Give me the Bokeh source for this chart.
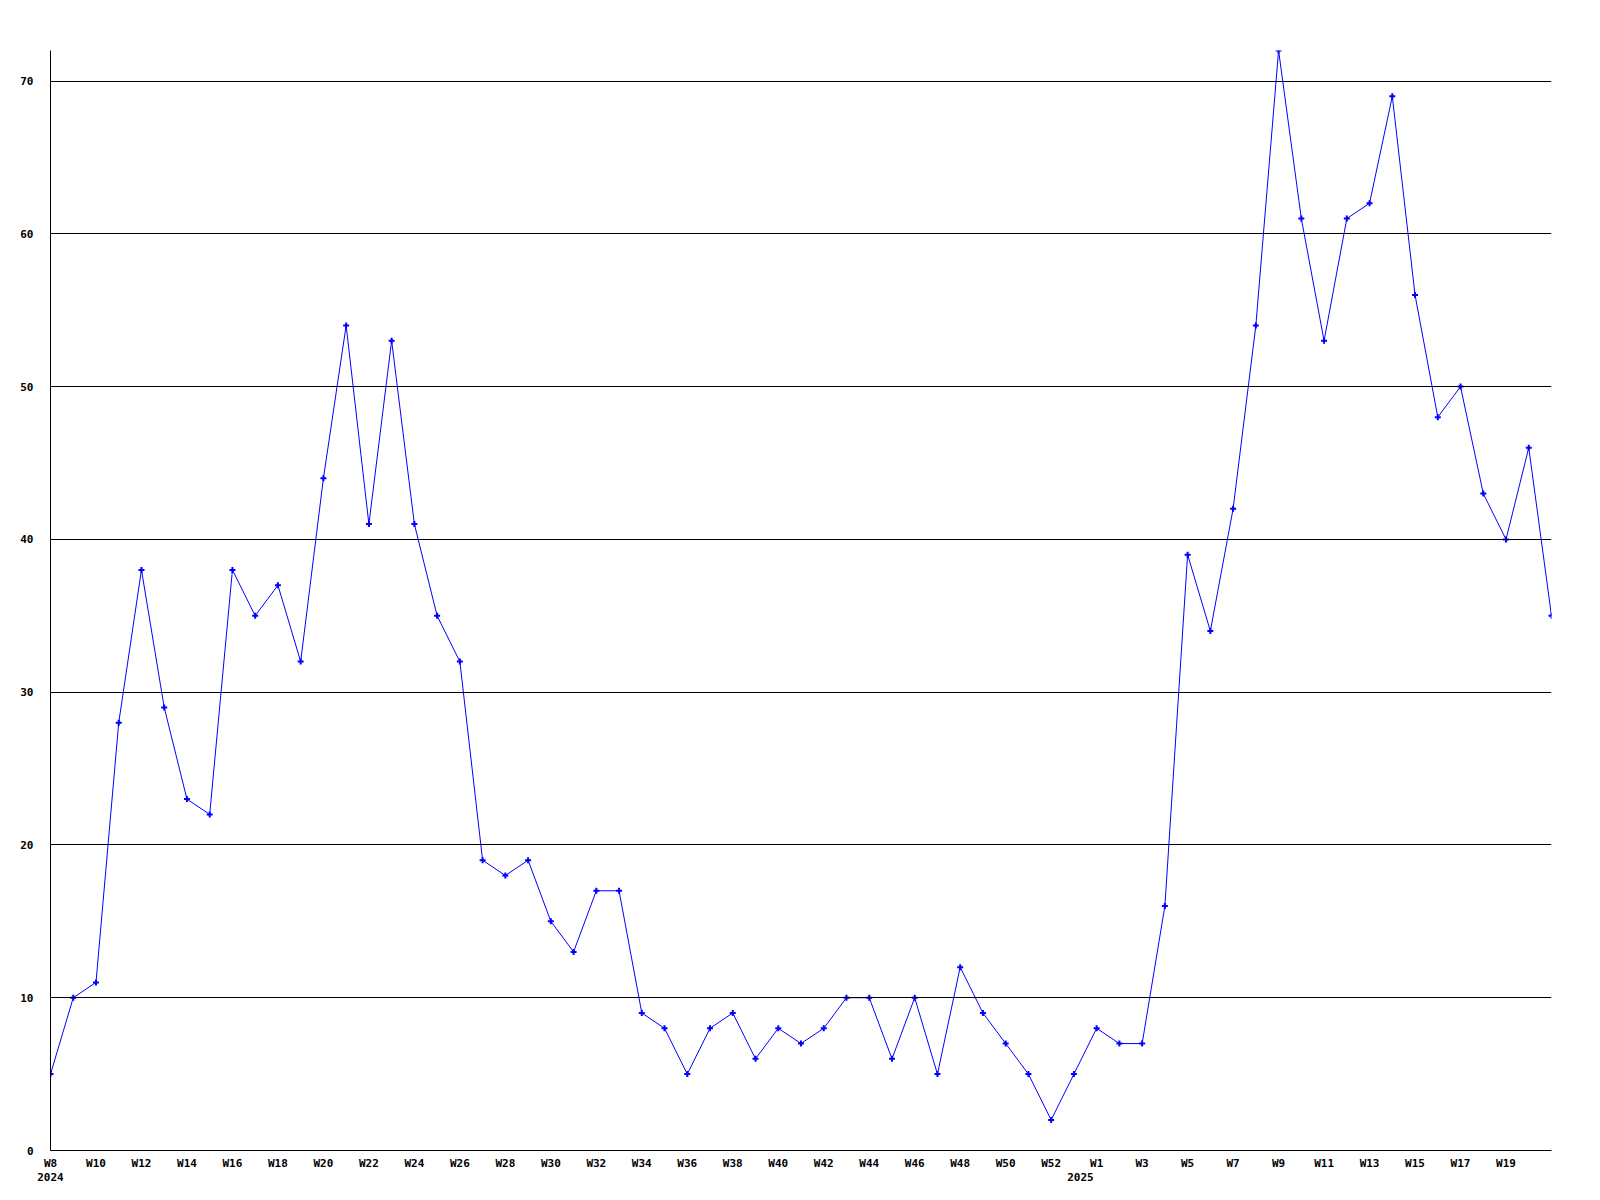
import datetime
from bokeh.plotting import figure
from bokeh.models import Range1d, FixedTicker, LinearAxis
from bokeh.embed import file_html
from bokeh.resources import INLINE

# ---- data ----
week_labels = [
    "W8", "W9", "W10", "W11", "W12", "W13", "W14", "W15", "W16", "W17",
    "W18", "W19", "W20", "W21", "W22", "W23", "W24", "W25", "W26", "W27",
    "W28", "W29", "W30", "W31", "W32", "W33", "W34", "W35", "W36", "W37",
    "W38", "W39", "W40", "W41", "W42", "W43", "W44", "W45", "W46", "W47",
    "W48", "W49", "W50", "W51", "W52", "W53",
    "W1", "W2", "W3", "W4", "W5", "W6", "W7", "W8", "W9", "W10",
    "W11", "W12", "W13", "W14", "W15", "W16", "W17", "W18", "W19", "W20", "W21",
]
values = [
    5, 10, 11, 28, 38, 29, 23, 22, 38, 35,
    37, 32, 44, 54, 41, 53, 41, 35, 32, 19,
    18, 19, 15, 13, 17, 17, 9, 8, 5, 8,
    9, 6, 8, 7, 8, 10, 10, 6, 10, 5,
    12, 9, 7, 5, 2, 5,
    8, 7, 7, 16, 39, 34, 42, 54, 72, 61,
    53, 61, 62, 69, 56, 48, 50, 43, 40, 46, 35,
]
first_week_date = datetime.date(2024, 2, 19)
year_labels = ["2024", "2025"]
year_starts = [datetime.date(2024, 2, 19), datetime.date(2025, 1, 1)]
y_ticks = [0, 10, 20, 30, 40, 50, 60, 70]

x = list(range(len(values)))
tick_idx = [i for i in x if i % 2 == 0 and i < len(x) - 1]
year_pos = [round((d - first_week_date).days / 7.0, 2) for d in year_starts]

FONT = "DejaVu Sans Mono"

p = figure(
    frame_width=1501, frame_height=1100,
    min_border_left=50, min_border_right=40, min_border_top=50, min_border_bottom=40,
    x_range=Range1d(0, len(values) - 1), y_range=Range1d(0, 72),
    output_backend="svg", toolbar_location=None,
    background_fill_color="white", border_fill_color="white",
)
p.outline_line_color = None

# grid
p.xgrid.visible = False
p.ygrid.ticker = FixedTicker(ticks=y_ticks)
p.ygrid.grid_line_color = "black"
p.ygrid.grid_line_width = 1
p.ygrid.level = "glyph"

# axes
for ax in (p.xaxis[0], p.yaxis[0]):
    ax.axis_line_color = "black"
    ax.axis_line_width = 1
    ax.major_tick_line_color = None
    ax.minor_tick_line_color = None
    ax.major_tick_out = 0
    ax.major_tick_in = 0
    ax.minor_tick_out = 0
    ax.major_label_text_font = FONT
    ax.major_label_text_font_style = "bold"
    ax.major_label_text_font_size = "11px"
    ax.major_label_text_color = "black"

p.yaxis[0].ticker = FixedTicker(ticks=y_ticks)
p.yaxis[0].major_label_standoff = 17

p.xaxis[0].ticker = FixedTicker(ticks=tick_idx)
p.xaxis[0].major_label_overrides = {i: week_labels[i] for i in tick_idx}
p.xaxis[0].major_label_standoff = 6

year_axis = LinearAxis(
    ticker=FixedTicker(ticks=year_pos),
    major_label_overrides={pos: lab for pos, lab in zip(year_pos, year_labels)},
    axis_line_color=None, major_tick_line_color=None, minor_tick_line_color=None,
    major_tick_out=0, major_tick_in=0, minor_tick_out=0,
    major_label_standoff=0,
    major_label_text_font=FONT, major_label_text_font_style="bold",
    major_label_text_font_size="11px", major_label_text_color="black",
)
p.add_layout(year_axis, "below")

# series
p.line(x, values, line_color="#0000ff", line_width=1)
p.scatter(x, values, marker="cross", size=6, line_color="#0000ff", line_width=2)

open("out.html", "w").write(file_html(p, INLINE))
